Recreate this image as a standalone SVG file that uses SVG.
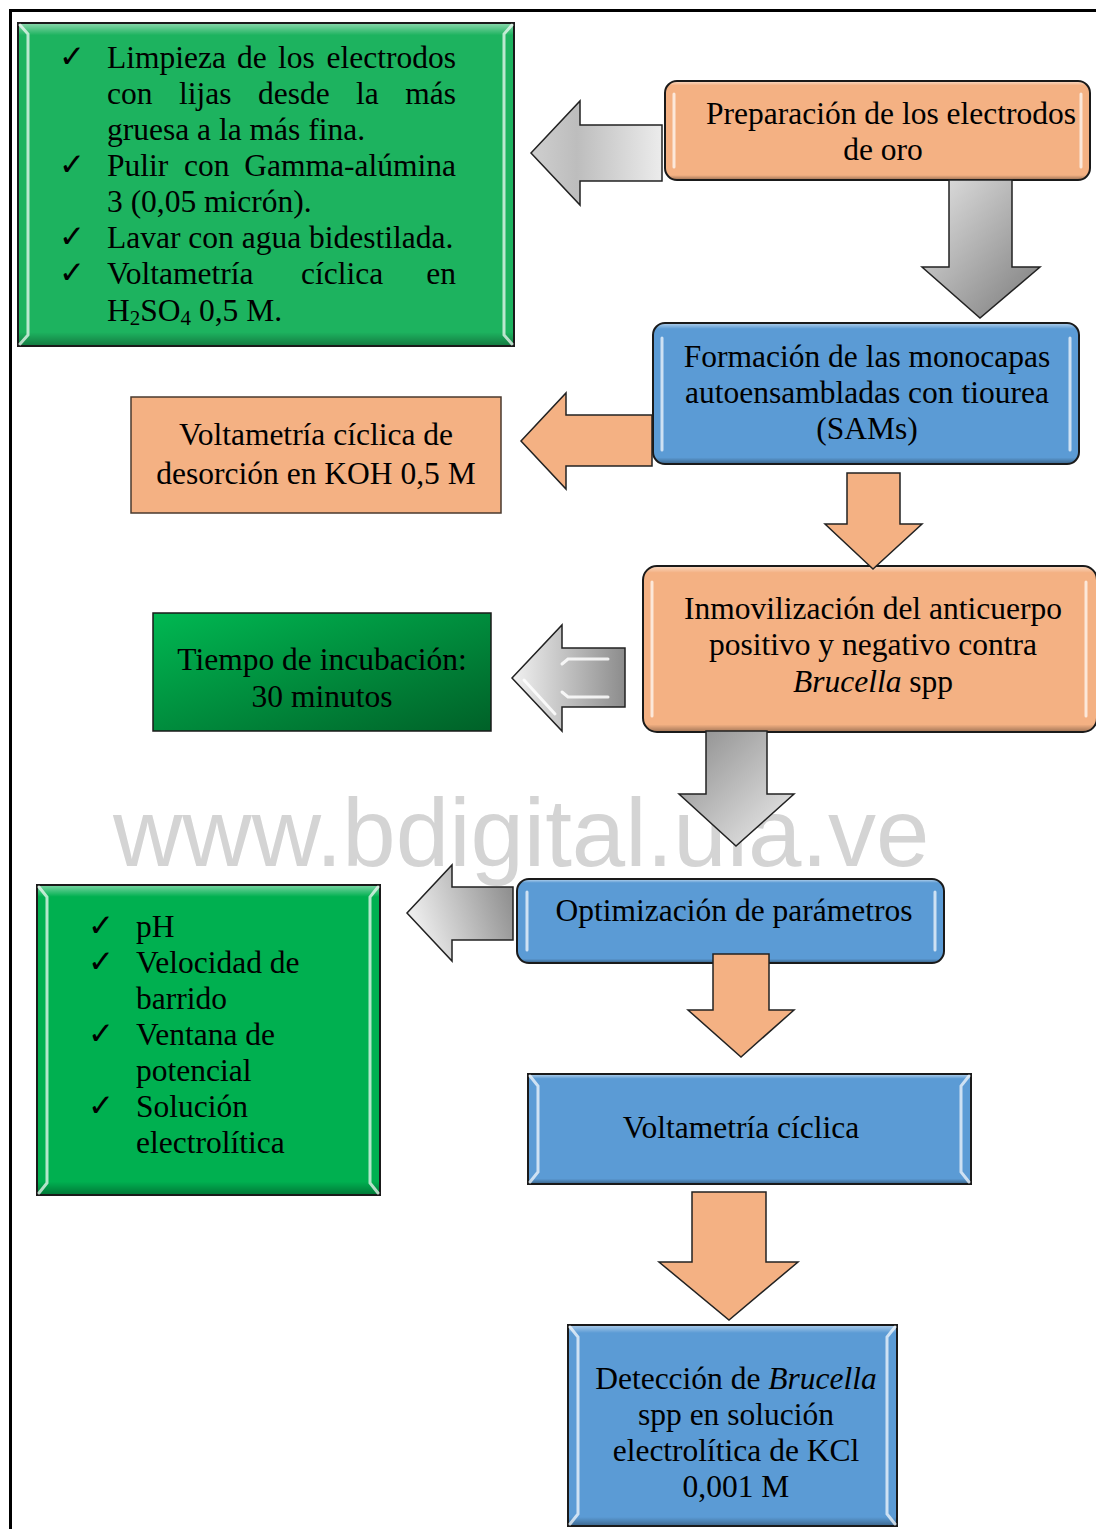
<svg xmlns="http://www.w3.org/2000/svg" width="1096" height="1529" viewBox="0 0 1096 1529">
<defs>
<linearGradient id="bevV" x1="0" y1="0" x2="0" y2="1">
<stop offset="0" stop-color="#fff" stop-opacity="0.45"/>
<stop offset="0.035" stop-color="#fff" stop-opacity="0"/>
<stop offset="0.96" stop-color="#000" stop-opacity="0"/>
<stop offset="1" stop-color="#000" stop-opacity="0.3"/>
</linearGradient>
<linearGradient id="gGreen6" x1="0" y1="0" x2="1" y2="1">
<stop offset="0" stop-color="#00B852"/>
<stop offset="1" stop-color="#006128"/>
</linearGradient>
<linearGradient id="gA1" x1="0" y1="0" x2="1" y2="0">
<stop offset="0" stop-color="#cfcfcf"/>
<stop offset="0.35" stop-color="#bdbdbd"/>
<stop offset="1" stop-color="#ececec"/>
</linearGradient>
<linearGradient id="gA2" x1="0" y1="0" x2="1" y2="1">
<stop offset="0" stop-color="#e4e4e4"/>
<stop offset="1" stop-color="#7a7a7a"/>
</linearGradient>
<linearGradient id="gA5" x1="0" y1="0" x2="1" y2="0">
<stop offset="0" stop-color="#f2f2f2"/>
<stop offset="1" stop-color="#8c8c8c"/>
</linearGradient>
<linearGradient id="gA6" x1="0" y1="0" x2="1" y2="1">
<stop offset="0" stop-color="#8a8a8a"/>
<stop offset="1" stop-color="#efefef"/>
</linearGradient>
<linearGradient id="gA7" x1="0" y1="0.3" x2="1" y2="0">
<stop offset="0" stop-color="#ececec"/>
<stop offset="1" stop-color="#868686"/>
</linearGradient>
</defs>
<style>
.t{font-family:"Liberation Serif","Times New Roman",serif;font-size:31.5px;fill:#000}
.c{text-anchor:middle}
.chk{font-family:"DejaVu Sans",sans-serif;font-size:31px;fill:#000}
.bx{stroke:#1a1a1a;stroke-width:2}
.hl{stroke:#fff;stroke-opacity:0.7;stroke-width:3;fill:none;stroke-linecap:round}
.org{fill:#F4B183}
.blu{fill:#5B9BD5}
.ar{stroke:#222;stroke-width:1.5;stroke-linejoin:miter}
.wm{font-family:"Liberation Sans",Arial,sans-serif;font-size:96px;fill:#d4d4d4}
</style>
<rect x="0" y="0" width="1096" height="1529" fill="#fff"/>
<path d="M10.5,1529 V10.5 H1096" fill="none" stroke="#000" stroke-width="3"/>
<text class="wm" x="113" y="866">www.bdigital.ula.ve</text>

<g id="n1">
<rect class="bx" x="18" y="23" width="496" height="323" fill="#1DB35F"/>
<rect x="19" y="24" width="494" height="321" fill="url(#bevV)"/>
<path class="hl" d="M20,25 L28,34 V335 L20,344"/>
<path class="hl" d="M512,25 L504,34 V335 L512,344"/>
<text class="chk" x="59" y="67">✓</text>
<text class="chk" x="59" y="175">✓</text>
<text class="chk" x="59" y="247">✓</text>
<text class="chk" x="59" y="283">✓</text>
<text class="t" y="68"><tspan x="107">Limpieza</tspan><tspan x="237">de</tspan><tspan x="278">los</tspan></text>
<text class="t" x="456" y="68" text-anchor="end">electrodos</text>
<text class="t" y="104"><tspan x="107">con</tspan><tspan x="179">lijas</tspan><tspan x="258">desde</tspan><tspan x="356">la</tspan></text>
<text class="t" x="456" y="104" text-anchor="end">más</text>
<text class="t" x="107" y="140">gruesa a la más fina.</text>
<text class="t" y="176"><tspan x="107">Pulir</tspan><tspan x="184">con</tspan></text>
<text class="t" x="456" y="176" text-anchor="end">Gamma-alúmina</text>
<text class="t" x="107" y="212">3 (0,05 micrón).</text>
<text class="t" x="107" y="248">Lavar con agua bidestilada.</text>
<text class="t" x="107" y="284">Voltametría</text>
<text class="t" x="301" y="284">cíclica</text>
<text class="t" x="456" y="284" text-anchor="end">en</text>
<text class="t" x="107" y="321">H<tspan font-size="21" dy="4">2</tspan><tspan dy="-4">SO</tspan><tspan font-size="21" dy="4">4</tspan><tspan dy="-4"> 0,5 M.</tspan></text>
</g>

<g id="n2">
<rect class="bx org" x="665" y="81" width="425" height="99" rx="12"/>
<rect x="666" y="82" width="423" height="97" rx="11" fill="url(#bevV)"/>
<path class="hl" d="M674,94 V167"/>
<path class="hl" d="M1081,94 V167"/>
<text class="t c" x="891" y="124">Preparación de los electrodos</text>
<text class="t c" x="883" y="160">de oro</text>
</g>

<g id="n3">
<rect class="bx blu" x="653" y="323" width="426" height="141" rx="12"/>
<rect x="654" y="324" width="424" height="139" rx="11" fill="url(#bevV)"/>
<path class="hl" d="M662,338 V450"/>
<path class="hl" d="M1070,338 V450"/>
<text class="t c" x="867" y="367">Formación de las monocapas</text>
<text class="t c" x="867" y="403">autoensambladas con tiourea</text>
<text class="t c" x="867" y="439">(SAMs)</text>
</g>

<g id="n4">
<rect class="org" x="131" y="397" width="370" height="116" stroke="#4a3a2e" stroke-width="1.5"/>
<text class="t c" x="316" y="445">Voltametría cíclica de</text>
<text class="t c" x="316" y="484">desorción en KOH 0,5 M</text>
</g>

<g id="n5">
<rect class="bx org" x="643" y="566" width="454" height="166" rx="14"/>
<rect x="644" y="567" width="452" height="164" rx="13" fill="url(#bevV)"/>
<path class="hl" d="M652,582 V716"/>
<path class="hl" d="M1086,582 V716"/>
<text class="t c" x="873" y="619">Inmovilización del anticuerpo</text>
<text class="t c" x="873" y="655">positivo y negativo contra</text>
<text class="t c" x="873" y="692"><tspan font-style="italic">Brucella</tspan> spp</text>
</g>

<g id="n6">
<rect x="153" y="613" width="338" height="118" fill="url(#gGreen6)" stroke="#1a1a1a" stroke-width="1.5"/>
<text class="t c" x="322" y="670">Tiempo de incubación:</text>
<text class="t c" x="322" y="707">30 minutos</text>
</g>

<g id="n7">
<rect class="bx" x="37" y="885" width="343" height="310" fill="#00B050"/>
<rect x="38" y="886" width="341" height="308" fill="url(#bevV)"/>
<path class="hl" d="M39,887 L47,897 V1183 L39,1193"/>
<path class="hl" d="M378,887 L370,897 V1183 L378,1193"/>
<text class="chk" x="88" y="936">✓</text>
<text class="chk" x="88" y="972">✓</text>
<text class="chk" x="88" y="1044">✓</text>
<text class="chk" x="88" y="1116">✓</text>
<text class="t" x="136" y="937">pH</text>
<text class="t" x="136" y="973">Velocidad de</text>
<text class="t" x="136" y="1009">barrido</text>
<text class="t" x="136" y="1045">Ventana de</text>
<text class="t" x="136" y="1081">potencial</text>
<text class="t" x="136" y="1117">Solución</text>
<text class="t" x="136" y="1153">electrolítica</text>
</g>

<g id="n8">
<rect class="bx blu" x="517" y="879" width="427" height="84" rx="12"/>
<rect x="518" y="880" width="425" height="82" rx="11" fill="url(#bevV)"/>
<path class="hl" d="M527,892 V950"/>
<path class="hl" d="M935,892 V950"/>
<text class="t c" x="734" y="921">Optimización de parámetros</text>
</g>

<g id="n9">
<rect class="bx blu" x="528" y="1074" width="443" height="110"/>
<rect x="529" y="1075" width="441" height="108" fill="url(#bevV)"/>
<path class="hl" d="M530,1076 L538,1086 V1172 L530,1182"/>
<path class="hl" d="M969,1076 L961,1086 V1172 L969,1182"/>
<text class="t c" x="741" y="1138">Voltametría cíclica</text>
</g>

<g id="n10">
<rect class="bx blu" x="568" y="1325" width="329" height="201"/>
<rect x="569" y="1326" width="327" height="199" fill="url(#bevV)"/>
<path class="hl" d="M570,1327 L578,1337 V1514 L570,1524"/>
<path class="hl" d="M895,1327 L887,1337 V1514 L895,1524"/>
<text class="t c" x="736" y="1389">Detección de <tspan font-style="italic">Brucella</tspan></text>
<text class="t c" x="736" y="1425">spp en solución</text>
<text class="t c" x="736" y="1461">electrolítica de KCl</text>
<text class="t c" x="736" y="1497">0,001 M</text>
</g>

<g id="connectors">
<polygon class="ar" fill="url(#gA1)" points="662,125 580,125 580,101 531,153 580,205 580,181 662,181"/>
<polygon class="ar" fill="url(#gA2)" points="949,180 1012,180 1012,267 1040,267 980,318 922,267 949,267"/>
<polygon class="ar org" points="652,415 566,415 566,393 521,441 566,489 566,466 652,466"/>
<polygon class="ar org" points="847,473 900,473 900,524 922,524 873,569 825,524 847,524"/>
<polygon class="ar" fill="url(#gA5)" points="625,648 562,648 562,625 512,678 562,731 562,707 625,707"/>
<path d="M608,659 H568 L562,664 M608,697 H568 L562,692 M524,680 L555,714" fill="none" stroke="#fff" stroke-opacity="0.85" stroke-width="3" stroke-linecap="round"/>
<polygon class="ar" fill="url(#gA6)" points="706,731 767,731 767,794 794,794 736,846 679,794 706,794"/>
<polygon class="ar" fill="url(#gA7)" points="513,887 452,887 452,865 407,913 452,961 452,940 513,940"/>
<polygon class="ar org" points="713,954 769,954 769,1010 794,1010 741,1057 688,1010 713,1010"/>
<polygon class="ar org" points="692,1192 766,1192 766,1262 798,1262 729,1320 659,1262 692,1262"/>
</g>
</svg>
